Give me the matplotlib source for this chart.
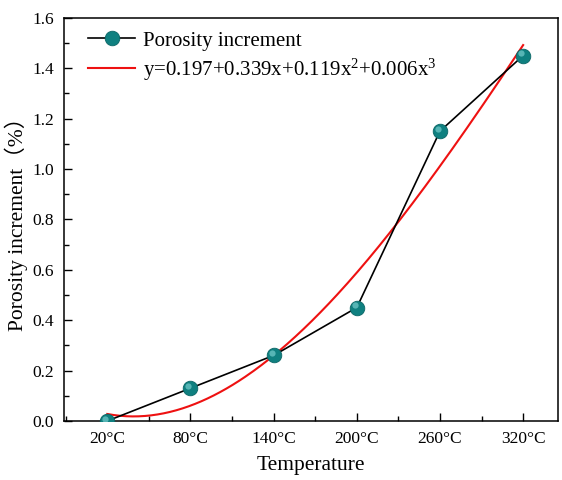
import numpy as np
import matplotlib
matplotlib.use("Agg")
import matplotlib.pyplot as plt
from matplotlib.ticker import MultipleLocator, FixedLocator, FormatStrFormatter
from matplotlib.transforms import ScaledTranslation

plt.rcParams['font.family'] = ['Liberation Serif', 'Noto Sans CJK SC']
plt.rcParams['mathtext.fontset'] = 'custom'
plt.rcParams['mathtext.rm'] = 'Liberation Serif'
plt.rcParams['mathtext.it'] = 'Liberation Serif'

temperatures = ["20°C", "80°C", "140°C", "200°C", "260°C", "320°C"]
porosity_increment = [0.0, 0.13, 0.26, 0.45, 1.15, 1.45]
fit_label = "y=0.197+0.339x+0.119x$^{2}$+0.006x$^{3}$"

x = np.arange(1, len(temperatures) + 1)
y = np.array(porosity_increment)

# cubic trend through the measured points
coef = np.polyfit(x, y, 3)
xs = np.linspace(1, 6, 200)
ys = np.polyval(coef, xs)

fig = plt.figure(figsize=(5.62, 4.8), dpi=100)
ax = fig.add_axes([0.114, 0.123, 0.879, 0.840])

ax.plot(x, y, color='black', lw=1.2, marker='o', ms=10.5,
        markerfacecolor='#0f8080', markeredgecolor='#0b6666', markeredgewidth=0.6,
        label='Porosity increment', zorder=3)
# small glossy highlight on each ball
hl = ax.transData + ScaledTranslation(-1.5 / 72, 1.5 / 72, fig.dpi_scale_trans)
ax.plot(x, y, ls='none', marker='o', ms=4.5, markerfacecolor='#5fbcbc',
        markeredgecolor='none', alpha=0.9, transform=hl, zorder=4)
ax.plot(xs, ys, color='#ee1111', lw=1.5, label=fit_label, zorder=2)

ax.set_xlim(0.48, 6.42)
ax.set_ylim(0, 1.6)
ax.set_xticks(x)
ax.set_xticklabels(temperatures)
ax.xaxis.set_minor_locator(FixedLocator(np.arange(0.5, 6.5, 1.0)))
ax.yaxis.set_major_locator(MultipleLocator(0.2))
ax.yaxis.set_minor_locator(MultipleLocator(0.1))
ax.yaxis.set_major_formatter(FormatStrFormatter('%.1f'))

ax.tick_params(which='major', direction='in', length=6, width=1, labelsize=12.5, pad=7)
ax.tick_params(which='minor', direction='in', length=3.5, width=1)
for s in ax.spines.values():
    s.set_linewidth(1.1)

ax.set_xlabel('Temperature', fontsize=15.5, labelpad=7)
ax.set_ylabel('Porosity increment（%）', fontsize=15.5, labelpad=3)

ax.legend(loc='upper left', frameon=False, fontsize=15, handlelength=2.3,
          handletextpad=0.35, borderaxespad=0.3, labelspacing=0.28,
          bbox_to_anchor=(0.018, 1.003))

fig.savefig('out.png', dpi=100)
